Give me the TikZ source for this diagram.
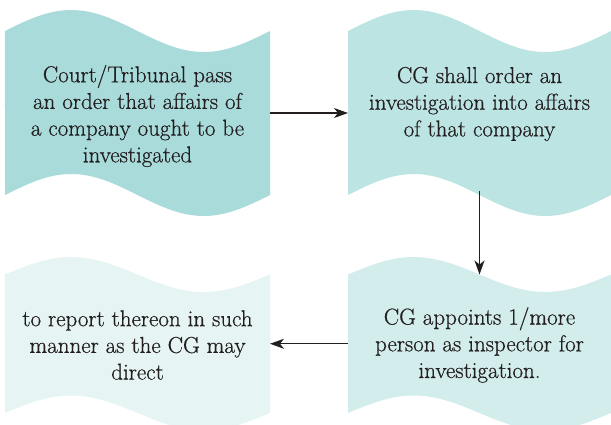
\documentclass[tikz,border=0pt]{standalone}
\usepackage{fontspec}
\newfontfamily\capfont{Latin Modern Roman}[FakeBold=0.6]
\usetikzlibrary{arrows.meta,backgrounds}

\definecolor{flagA}{RGB}{169,219,219}
\definecolor{flagB}{RGB}{188,228,227}
\definecolor{flagC}{RGB}{230,244,244}
\definecolor{flagD}{RGB}{211,236,236}
\definecolor{ink}{RGB}{35,31,32}

% Wavy banner behind a named frame node:
% #1 node, #2 quarter of its width, #3 wave amplitude, #4 fill colour
\newcommand\wavyflag[4]{%
  \fill[#4] (#1.north west)
    sin ++(#2,-#3) cos ++(#2,#3) sin ++(#2,#3) cos ++(#2,-#3)
    -- (#1.south east)
    sin ++(-#2,#3) cos ++(-#2,-#3) sin ++(-#2,-#3) cos ++(-#2,#3)
    -- cycle;}

\begin{document}
\begin{tikzpicture}[x=1bp,y=-1bp,
  frame/.style={inner sep=0pt,outer sep=0pt},
  caption/.style={align=center,text=ink,inner sep=0pt,
    font=\capfont\fontsize{23bp}{26.7bp}\selectfont},
  flow/.style={draw=ink,line width=1.2bp,-{Stealth[length=14bp,width=10bp,inset=4bp]}}]
  \useasboundingbox (0,0) rectangle (611,424);

  % frames whose corners carry the straight side edges of each banner
  \node[frame,minimum width=265bp,minimum height=164bp] (s1) at (137.5,113) {};
  \node[frame,minimum width=263bp,minimum height=164bp] (s2) at (479.5,113) {};
  \node[frame,minimum width=265bp,minimum height=138.5bp] (s3) at (137.5,343.75) {};
  \node[frame,minimum width=263bp,minimum height=138.5bp] (s4) at (479.5,343.75) {};

  \begin{scope}[on background layer]
    \wavyflag{s1}{66.25}{21}{flagA}
    \wavyflag{s2}{65.75}{21}{flagB}
    \wavyflag{s3}{66.25}{17.5}{flagC}
    \wavyflag{s4}{65.75}{17.5}{flagD}
  \end{scope}

  \node[caption] (t1) at (137.5,116)
    {Court/Tribunal pass\\an order that affairs of\\a company ought to be\\investigated};
  \node[caption] (t2) at (479.5,104)
    {CG shall order an\\investigation into affairs\\of that company};
  \node[caption] (t3) at (137.5,345)
    {to report thereon in such\\manner as the CG may\\direct};
  \node[caption] (t4) at (479.5,345)
    {CG appoints 1/more\\person as inspector for\\investigation.};

  \draw[flow] (s1.east) -- (s2.west);
  \draw[flow,shorten <=-4bp] (s2.south) -- (s4.north);
  \draw[flow] (s4.west) -- (s3.east);
\end{tikzpicture}
\end{document}
